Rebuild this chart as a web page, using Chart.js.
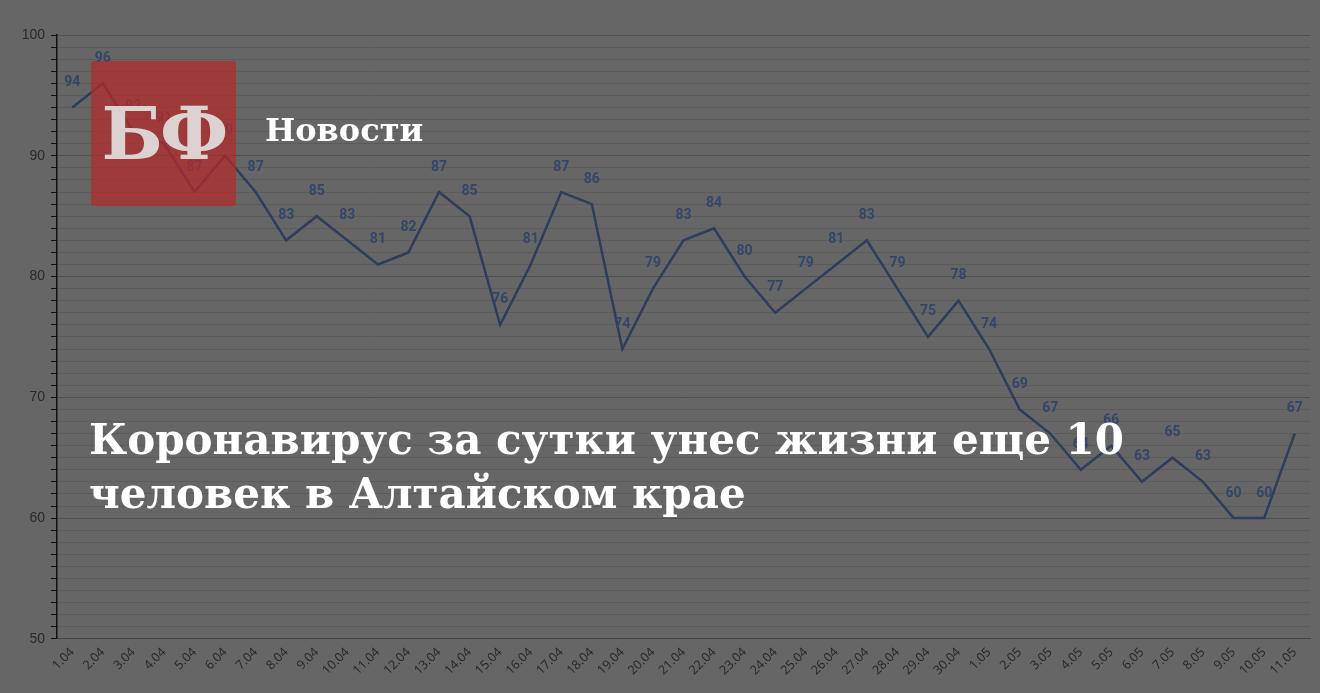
<!DOCTYPE html>
<html>
<head>
<meta charset="utf-8">
<script src="https://cdn.jsdelivr.net/npm/chart.js@4/dist/chart.umd.min.js"></script>
<style>
  html, body { margin: 0; padding: 0; background: #666666; }
  #wrap { position: relative; width: 1320px; height: 693px; overflow: hidden; }
  #chart { position: absolute; left: 0; top: 0; }
  .logo {
    position: absolute; left: 91px; top: 61px; width: 145px; height: 145px;
    background: rgba(180, 42, 42, 0.72); border-radius: 3px;
    color: rgba(226, 226, 226, 0.9); font: bold 72px "DejaVu Serif", serif;
    display: flex; align-items: center; justify-content: center; letter-spacing: -3px;
  }
  .rubric {
    position: absolute; left: 265px; top: 111px; color: #fff;
    font: bold 32px "DejaVu Serif", serif;
  }
  .title {
    position: absolute; left: 89px; top: 413px; color: #fff;
    font: bold 42px "DejaVu Serif", serif; line-height: 54px; white-space: nowrap;
  }
</style>
</head>
<body>
<div id="wrap">
  <canvas id="chart" width="1320" height="693"></canvas>
  <div class="logo">БФ</div>
  <div class="rubric">Новости</div>
  <div class="title">Коронавирус за сутки унес жизни еще 10<br>человек в Алтайском крае</div>
</div>
<script>
// days
const labels = ['1.04','2.04','3.04','4.04','5.04','6.04','7.04','8.04','9.04','10.04',
  '11.04','12.04','13.04','14.04','15.04','16.04','17.04','18.04','19.04','20.04',
  '21.04','22.04','23.04','24.04','25.04','26.04','27.04','28.04','29.04','30.04',
  '1.05','2.05','3.05','4.05','5.05','6.05','7.05','8.05','9.05','10.05','11.05'];
// values per day
const values = [94, 96, 92, 91, 87, 90, 87, 83, 85, 83,
  81, 82, 87, 85, 76, 81, 87, 86, 74, 79,
  83, 84, 80, 77, 79, 81, 83, 79, 75, 78,
  74, 69, 67, 64, 66, 63, 65, 63, 60, 60, 67];
const yMin = 50;
const yMax = 100;

// labels over points
const pointLabels = {
  id: 'pointLabels',
  afterDatasetsDraw(chart) {
    const ctx = chart.ctx;
    const meta = chart.getDatasetMeta(0);
    ctx.save();
    ctx.font = 'bold 14px Roboto, sans-serif';
    ctx.fillStyle = '#33466a';
    ctx.textAlign = 'center';
    ctx.textBaseline = 'bottom';
    meta.data.forEach((pt, i) => {
      ctx.fillText(values[i], pt.x, pt.y - 18);
    });
    ctx.restore();
  }
};

new Chart(document.getElementById('chart'), {
  type: 'line',
  data: {
    labels: labels,
    datasets: [{
      data: values,
      borderColor: '#2d3d5b',
      borderWidth: 2.5,
      pointRadius: 0,
      tension: 0,
      fill: false
    }]
  },
  options: {
    responsive: false,
    animation: false,
    plugins: { legend: { display: false }, tooltip: { enabled: false } },
    layout: { padding: { top: 35, right: 10, left: 0, bottom: 9 } },
    scales: {
      x: {
        offset: true,
        grid: { display: false, drawTicks: false },
        border: { color: '#444', width: 1 },
        ticks: {
          color: '#262626',
          font: { family: 'Open Sans', size: 12.5 },
          maxRotation: 45, minRotation: 45, autoSkip: false, padding: 6
        }
      },
      y: {
        min: yMin, max: yMax,
        afterFit(scale) { scale.width = 57; },
        grid: {
          color: ctx => (ctx.tick && ctx.tick.value % 10 === 0) ? '#505050' : '#5b5b5b',
          lineWidth: 1,
          tickColor: '#111',
          tickLength: 6
        },
        border: { color: '#111', width: 1.5 },
        ticks: {
          stepSize: 1,
          autoSkip: false,
          color: '#2a2a2a',
          font: { family: 'Liberation Sans', size: 14 },
          padding: 6,
          callback: v => (v % 10 === 0 ? v : '')
        }
      }
    }
  },
  plugins: [pointLabels]
});
</script>
</body>
</html>
